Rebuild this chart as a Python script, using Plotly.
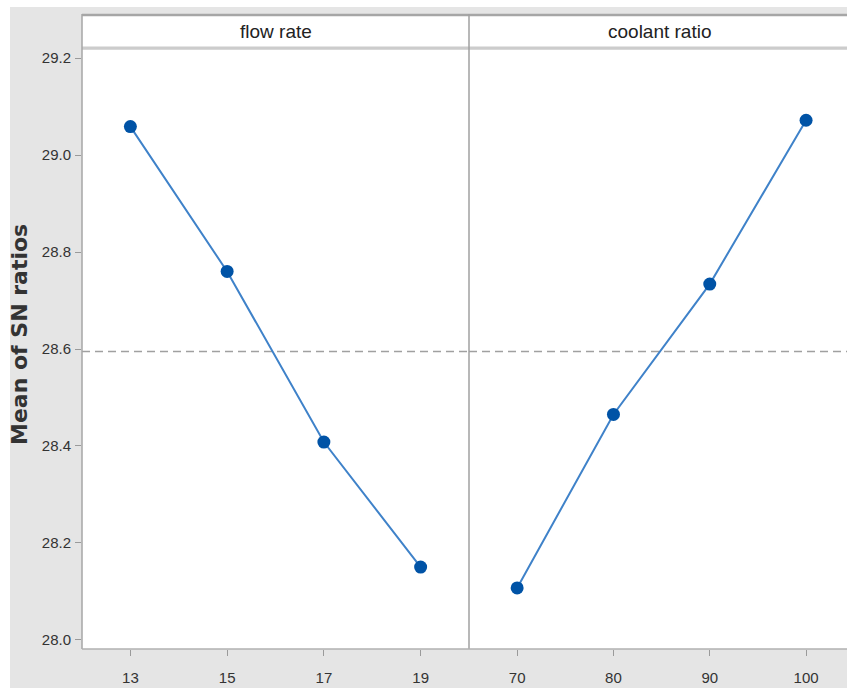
import plotly.graph_objects as go
from plotly.subplots import make_subplots

flow_levels = [13, 15, 17, 19]
flow_sn = [29.059, 28.760, 28.408, 28.150]
coolant_levels = [70, 80, 90, 100]
coolant_sn = [28.107, 28.465, 28.734, 29.072]
overall_mean = 28.595
y_ticks = [28.0, 28.2, 28.4, 28.6, 28.8, 29.0, 29.2]
panel_titles = ["flow rate", "coolant ratio"]

# body margin is removed by the post script; design in screen pixels
OFF = 0
SW, SH = 847, 688
W, H = SW - OFF, SH - OFF
PL, PT, PB = 82, 50, 649          # screen px of plot left, top, bottom
L, T, B, R = PL - OFF, PT - OFF, SH - PB, 0
PW, PH = W - L - R, H - T - B


def px(x):
    return (x - PL) / PW


def py(y):
    return (PB - y) / PH


split = px(469)

fig = make_subplots(rows=1, cols=2, shared_yaxes=True, horizontal_spacing=0)

line_col = "#3f82c9"
mark_col = "#0053a6"
for i, (xs, ys) in enumerate([(flow_levels, flow_sn), (coolant_levels, coolant_sn)]):
    fig.add_trace(go.Scatter(x=xs, y=ys, mode="lines+markers",
                             line=dict(color=line_col, width=2),
                             marker=dict(color=mark_col, size=13),
                             showlegend=False, hoverinfo="x+y"), row=1, col=i + 1)

tick_font = dict(family="Liberation Sans Narrow, Arial Narrow, Liberation Sans, sans-serif", size=15, color="#333333")
axis_common = dict(showgrid=False, zeroline=False, ticks="outside", ticklen=6, tickcolor="#9a9a9a",
                   tickwidth=1, tickfont=tick_font, showline=False)

fig.update_xaxes(domain=[0, split], range=[12, 20], tickvals=flow_levels,
                 ticktext=[str(v) for v in flow_levels], ticklabelstandoff=9, **axis_common, row=1, col=1)
fig.update_xaxes(domain=[split, 1], range=[65, 104.25], tickvals=coolant_levels,
                 ticktext=[str(v) for v in coolant_levels], ticklabelstandoff=9, **axis_common, row=1, col=2)
fig.update_yaxes(range=[27.981, 29.217], tickvals=y_ticks, ticktext=[f"{v:.1f}" for v in y_ticks],
                 ticklabelstandoff=1, **axis_common, row=1, col=1)
fig.update_yaxes(showticklabels=False, ticks="", showgrid=False, zeroline=False, row=1, col=2)

shapes = []
# white strips outside the grey panel (left and top)
shapes.append(dict(type="rect", xref="paper", yref="paper", x0=px(-2), x1=px(10), y0=py(SH + 5), y1=py(-5),
                   fillcolor="white", line=dict(width=0), layer="below"))
shapes.append(dict(type="rect", xref="paper", yref="paper", x0=px(-2), x1=px(SW + 5), y0=py(7), y1=py(-5),
                   fillcolor="white", line=dict(width=0), layer="below"))
# header strip
shapes.append(dict(type="rect", xref="paper", yref="paper", x0=0, x1=px(SW + 5), y0=py(48), y1=py(15),
                   fillcolor="white", line=dict(width=0)))
shapes.append(dict(type="line", xref="paper", yref="paper", x0=0, x1=px(SW + 5), y0=py(15), y1=py(15),
                   line=dict(color="#a6a6a6", width=2.5)))
shapes.append(dict(type="line", xref="paper", yref="paper", x0=0, x1=px(SW + 5), y0=py(48), y1=py(48),
                   line=dict(color="#cccccc", width=3)))
# panel borders
shapes.append(dict(type="line", xref="paper", yref="paper", x0=0, x1=0, y0=0, y1=py(14),
                   line=dict(color="#a6a6a6", width=1.5)))
shapes.append(dict(type="line", xref="paper", yref="paper", x0=split, x1=split, y0=0, y1=py(14),
                   line=dict(color="#a0a0a0", width=1.5)))
shapes.append(dict(type="line", xref="paper", yref="paper", x0=0, x1=1, y0=0, y1=0,
                   line=dict(color="#b0b0b0", width=1.5)))
# overall mean reference line
for xr in ["x", "x2"]:
    shapes.append(dict(type="line", xref=f"{xr} domain", yref="y", x0=0, x1=1, y0=overall_mean, y1=overall_mean,
                       line=dict(color="#a0a0a0", width=1.5, dash="8px,5px"), layer="below"))

head_font = dict(family="Liberation Sans Narrow, Arial Narrow, Liberation Sans, sans-serif", size=19, color="#222222")
annotations = [
    dict(text=panel_titles[0], xref="paper", yref="paper", x=px(275.5), y=py(32), showarrow=False,
         font=head_font, xanchor="center", yanchor="middle"),
    dict(text=panel_titles[1], xref="paper", yref="paper", x=px(660), y=py(32), showarrow=False,
         font=head_font, xanchor="center", yanchor="middle"),
    dict(text="Mean of SN ratios", xref="paper", yref="paper", x=px(19), y=py(335), showarrow=False,
         textangle=-90, font=dict(family="DejaVu Sans, Verdana, sans-serif", size=22, color="#333333",
                                  weight="bold"),
         xanchor="center", yanchor="middle"),
]

fig.update_layout(width=W, height=H, margin=dict(l=L, r=R, t=T, b=B),
                  paper_bgcolor="#e5e5e5", plot_bgcolor="white",
                  shapes=shapes, annotations=annotations, showlegend=False)

fig.write_html("out.html", config={"displayModeBar": False},
               post_script="document.body.style.margin='0';"
                           "document.documentElement.style.overflow='hidden';"
                           "document.body.style.overflow='hidden';")
